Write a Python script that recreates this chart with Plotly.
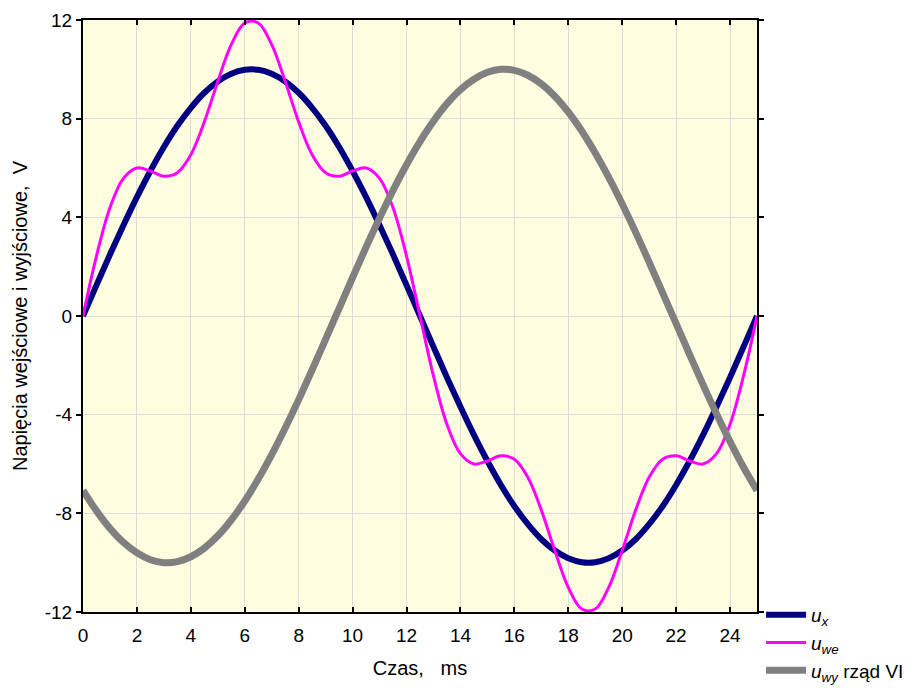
import plotly.graph_objects as go

t_ms = [i * 0.5 for i in range(51)]

u_x = [0.0, 1.25, 2.49, 3.68, 4.82, 5.88, 6.85, 7.71, 8.44, 9.05, 9.51, 9.82, 9.98,
       9.98, 9.82, 9.51, 9.05, 8.44, 7.71, 6.85, 5.88, 4.82, 3.68, 2.49, 1.25, 0.0,
       -1.25, -2.49, -3.68, -4.82, -5.88, -6.85, -7.71, -8.44, -9.05, -9.51, -9.82, -9.98,
       -9.98, -9.82, -9.51, -9.05, -8.44, -7.71, -6.85, -5.88, -4.82, -3.68, -2.49, -1.25, 0.0]

u_we = [0.0, 2.43, 4.39, 5.58, 6.00, 5.88, 5.67, 5.81, 6.54, 7.87, 9.51, 11.00, 11.88,
        11.88, 11.00, 9.51, 7.87, 6.54, 5.81, 5.67, 5.88, 6.00, 5.58, 4.39, 2.43, 0.0,
        -2.43, -4.39, -5.58, -6.00, -5.88, -5.67, -5.81, -6.54, -7.87, -9.51, -11.00, -11.88,
        -11.88, -11.00, -9.51, -7.87, -6.54, -5.81, -5.67, -5.88, -6.00, -5.58, -4.39, -2.43, 0.0]

u_wy = [-7.07, -7.90, -8.61, -9.18, -9.60, -9.88, -10.00, -9.96, -9.76, -9.41, -8.91, -8.27, -7.50,
        -6.61, -5.62, -4.54, -3.39, -2.18, -0.94, 0.31, 1.56, 2.79, 3.97, 5.09, 6.13, 7.07,
        7.90, 8.61, 9.18, 9.60, 9.88, 10.00, 9.96, 9.76, 9.41, 8.91, 8.27, 7.50,
        6.61, 5.62, 4.54, 3.39, 2.18, 0.94, -0.31, -1.56, -2.79, -3.97, -5.09, -6.13, -7.07]

x_ticks = list(range(0, 25, 2))
y_ticks = [-12, -8, -4, 0, 4, 8, 12]
y_tick_labels = ["-12", "-8", "-4", "0", "4", "8", "12"]

names = ["<i>u<sub>x</sub></i>", "<i>u<sub>we</sub></i>", "<i>u<sub>wy</sub></i> rząd VI"]
x_title = "Czas,\u00a0\u00a0\u00a0ms"
y_title = "Napięcia wejściowe i wyjściowe,\u00a0\u00a0V"

fig = go.Figure()
fig.add_trace(go.Scatter(x=t_ms, y=u_x, mode="lines", name=names[0],
                         line=dict(color="#000080", width=6, shape="spline")))
fig.add_trace(go.Scatter(x=t_ms, y=u_we, mode="lines", name=names[1],
                         line=dict(color="#FF00FF", width=3, shape="spline")))
fig.add_trace(go.Scatter(x=t_ms, y=u_wy, mode="lines", name=names[2],
                         line=dict(color="#808080", width=7, shape="spline")))

font_family = "Liberation Sans, Arial, sans-serif"
tick_fnt = dict(family=font_family, size=19, color="black")
title_fnt = dict(family=font_family, size=20, color="black")

fig.update_layout(
    width=920, height=689,
    margin=dict(l=83, r=163, t=20, b=77, autoexpand=False),
    paper_bgcolor="white",
    plot_bgcolor="#FEFDE0",
    font=tick_fnt,
    legend=dict(x=1.006, xanchor="left", y=0.027, yanchor="top",
                font=dict(family=font_family, size=19, color="black"),
                tracegroupgap=0, itemwidth=40,
                bgcolor="rgba(0,0,0,0)"),
    xaxis=dict(range=[0, 25], tickvals=x_ticks, ticks="inside", ticklen=5,
               tickwidth=2, tickcolor="black", showline=True, linecolor="black",
               linewidth=2, mirror="ticks", showgrid=True, gridcolor="#DCDCDC",
               gridwidth=1, zeroline=False, ticklabelstandoff=5,
               tickfont=tick_fnt,
               title=dict(text=x_title, standoff=16, font=title_fnt)),
    yaxis=dict(range=[-12, 12], tickvals=y_ticks, ticktext=y_tick_labels,
               ticks="outside", ticklen=5, tickwidth=2, tickcolor="black",
               showline=True, linecolor="black", linewidth=2, mirror="ticks",
               showgrid=True, gridcolor="#DCDCDC", gridwidth=1, zeroline=False,
               tickfont=tick_fnt,
               title=dict(text=y_title, standoff=12, font=title_fnt)),
)

fig.write_html("out.html")
